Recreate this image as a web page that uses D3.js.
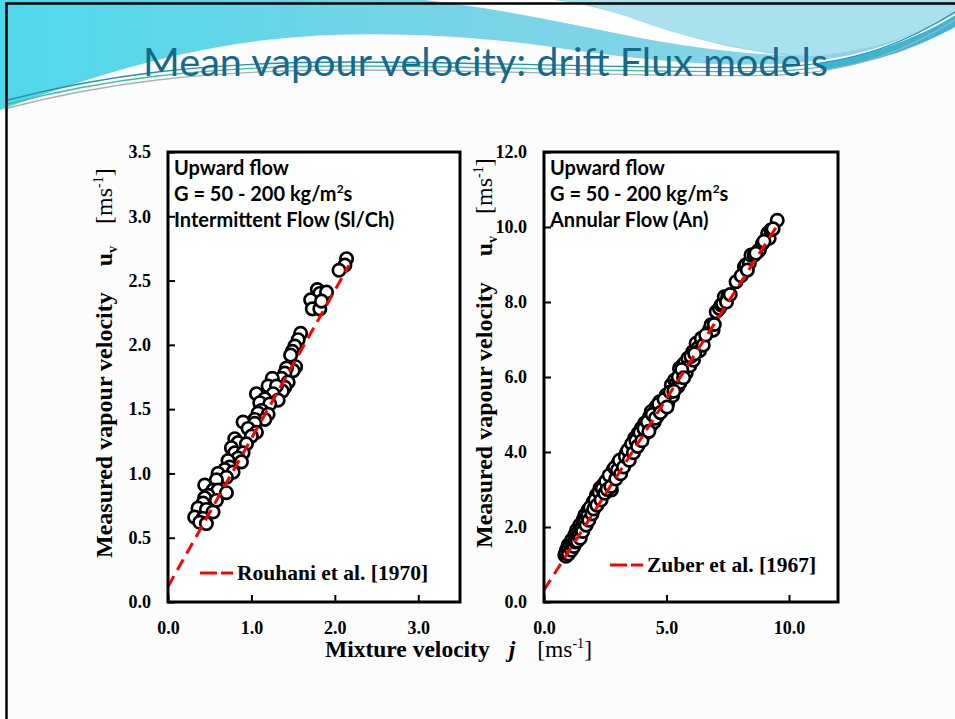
<!DOCTYPE html>
<html><head><meta charset="utf-8">
<script src="https://cdn.jsdelivr.net/npm/d3@7"></script>
<style>body{margin:0;background:#fff;} svg{display:block}</style>
</head><body>
<svg id="c" width="955" height="719"></svg>
<script>
// ---------- DATA ----------
const titleText = "Mean vapour velocity: drift Flux models";
const leftXTicks = [0, 1, 2, 3];
const leftYTicks = [0, 0.5, 1, 1.5, 2, 2.5, 3, 3.5];
const rightXTicks = [0, 5, 10];
const rightYTicks = [0, 2, 4, 6, 8, 10, 12];
const leftNotes = ["Upward flow", "G = 50 - 200 kg/m", "Intermittent Flow (Sl/Ch)"];
const rightNotes = ["Upward flow", "G = 50 - 200 kg/m", "Annular Flow (An)"];
const leftLegend = "Rouhani et al. [1970]";
const rightLegend = "Zuber et al. [1967]";

// Intermittent flow (Sl/Ch): mixture velocity j, measured vapour velocity u
const intJ = [2.14,2.12,2.05,1.79,1.82,1.90,1.71,1.73,1.82,1.84,1.59,1.56,1.52,1.49,1.47,1.53,1.50,1.42,1.40,1.36,1.44,1.40,1.37,
  1.25,1.20,1.30,1.26,1.06,1.16,1.32,1.10,1.22,1.12,1.08,1.20,1.16,1.04,0.90,1.04,0.96,1.06,1.00,0.80,0.84,0.94,0.76,0.80,0.90,
  0.84,0.88,0.72,0.74,0.68,0.78,0.60,0.70,0.58,0.44,0.54,0.60,0.48,0.70,0.44,0.58,0.42,0.36,0.46,0.54,0.32,0.42,0.38,0.46];
const intU = [2.67,2.62,2.58,2.43,2.40,2.41,2.35,2.28,2.28,2.34,2.09,2.04,1.99,1.95,1.92,1.83,1.80,1.82,1.78,1.74,1.71,1.67,1.64,
  1.74,1.68,1.68,1.62,1.62,1.58,1.57,1.55,1.54,1.49,1.47,1.46,1.42,1.42,1.40,1.39,1.35,1.32,1.29,1.27,1.24,1.23,1.20,1.16,1.16,
  1.12,1.09,1.10,1.05,1.03,1.01,1.00,0.97,0.95,0.91,0.87,0.87,0.83,0.85,0.81,0.79,0.77,0.73,0.72,0.70,0.66,0.65,0.62,0.61];

// Annular flow (An)
const annJ = [0.85,0.90,0.92,0.95,0.99,1.02,1.05,1.10,1.13,1.15,1.20,1.26,1.25,1.30,1.33,1.38,1.40,1.46,1.50,1.55,1.60,1.62,1.67,1.70,
  1.75,1.80,1.85,1.90,1.94,1.98,2.01,2.05,2.10,2.14,2.18,2.22,2.28,2.30,2.35,2.41,2.45,2.50,2.55,2.62,2.60,2.69,2.70,2.75,2.78,2.82,
  2.85,2.90,2.95,3.02,3.05,3.10,3.16,3.20,3.23,3.28,3.36,3.40,3.45,3.50,3.55,3.60,3.70,3.72,3.78,3.84,3.88,3.95,3.97,4.05,4.11,4.15,
  4.18,4.25,4.31,4.35,4.38,4.45,4.50,4.58,4.62,4.65,4.72,4.80,4.85,4.99,4.99,5.05,5.10,5.20,5.20,5.25,5.33,5.40,5.46,5.53,5.55,5.60,
  5.67,5.74,5.80,5.87,5.95,6.07,6.10,6.21,6.28,6.35,6.42,6.50,6.75,6.82,6.90,7.03,7.16,7.23,7.29,7.36,7.50,7.84,8.18,8.24,8.38,8.45,
  8.58,8.72,8.79,8.92,9.13,9.19,9.26,9.52,
  0.88,0.97,1.00,1.08,1.12,1.18,1.22,1.28,1.35,1.36,1.43,1.48,1.52,1.58,1.65,1.72,1.78,1.83,1.88,1.96,2.03,2.08,2.16,2.25,2.33,2.38,
  2.48,2.52,2.58,2.66,2.73,2.88,2.93,3.00,3.08,3.13,3.25,3.32,3.42,3.48,3.58,3.65,3.75,3.82,3.92,4.00,4.08,4.22,4.28,4.42,4.55,4.68,
  4.75,4.90,5.02,5.15,5.30,5.48,5.62,5.70,6.00,6.15,6.60,6.95,7.45,7.60,8.05,8.30,8.65,8.98,9.35];
const annU = [1.25,1.22,1.39,1.30,1.52,1.35,1.45,1.40,1.65,1.50,1.58,1.79,1.62,1.70,1.92,1.75,1.85,2.05,1.90,2.00,2.19,2.05,2.32,2.15,
  2.25,2.45,2.30,2.40,2.54,2.45,2.67,2.55,2.62,2.85,2.70,2.78,3.03,2.85,2.92,3.12,2.98,3.05,3.15,3.25,3.10,3.34,3.18,2.99,3.25,3.52,
  3.35,3.40,3.50,3.70,3.45,3.55,3.57,3.65,3.83,3.70,3.97,3.80,3.90,4.10,3.95,4.05,4.37,4.10,4.20,4.50,4.25,4.35,4.63,4.45,4.77,4.50,
  4.59,4.65,4.94,4.70,5.08,4.94,4.80,5.21,4.95,5.12,5.34,5.10,5.25,5.52,5.43,5.30,5.45,5.65,5.79,5.50,5.92,5.83,5.74,6.23,5.85,6.05,
  6.32,6.37,6.10,6.50,6.30,6.67,6.45,6.90,6.77,6.70,7.03,6.85,7.25,7.39,7.25,7.74,7.83,7.92,7.96,8.14,8.14,8.54,8.94,8.99,9.03,9.25,
  9.25,9.34,9.39,9.56,9.83,9.70,9.92,10.18,
  1.30,1.40,1.28,1.50,1.38,1.52,1.48,1.60,1.82,1.62,1.78,1.70,1.95,1.88,2.12,2.05,2.30,2.18,2.52,2.35,2.48,2.72,2.58,2.92,2.72,3.02,
  2.90,3.22,3.00,3.38,3.08,3.58,3.28,3.52,3.78,3.42,3.60,3.88,4.05,3.78,4.22,3.98,4.30,4.15,4.52,4.30,4.62,4.80,4.55,5.00,4.90,5.28,
  5.05,5.40,5.20,5.60,5.62,6.00,6.20,5.98,6.55,6.62,7.12,7.40,8.00,8.20,8.70,8.85,9.30,9.62,9.95];

// Drift-flux model lines
const rouJ = [0, 2.17];
const rouU = [0.12, 2.62];
const zubJ = [0, 9.5];
const zubU = [0.32, 10.02];

// ---------- DRAW ----------
const svg = d3.select("#c");
const defs = svg.append("defs");
const gr = defs.append("linearGradient").attr("id","cy").attr("x1","0").attr("x2","1").attr("y1","0").attr("y2","0");
gr.append("stop").attr("offset","0").attr("stop-color","#4fd8ea");
gr.append("stop").attr("offset","0.5").attr("stop-color","#78d4e6");
gr.append("stop").attr("offset","1").attr("stop-color","#8fd4e8");

svg.append("rect").attr("width",955).attr("height",719).attr("fill","#fcfcfc");
// decorative wave
svg.append("path").attr("fill","url(#cy)")
  .attr("d","M0,0 L955,0 L955,14 C905,40 865,56 805,62 C725,70 625,58 545,46 C455,34 355,30 265,40 C165,52 75,82 0,110 Z");
svg.append("path").attr("fill","#a9e1ec")
  .attr("d","M560,0 L955,0 L955,14 C905,40 865,52 810,56 C740,52 680,36 630,18 C605,9 585,3 560,0 Z");
svg.append("path").attr("fill","#ffffff")
  .attr("d","M425,0 C495,8 560,22 620,34 C670,44 720,52 790,56 C720,48 670,32 625,16 C600,8 575,2 555,0 Z");
svg.append("path").attr("fill","#3db4dd")
  .attr("d","M815,64 C875,55 920,36 955,16 L955,27 C920,46 880,62 822,70 Z");
const wl = [["#2c8db2",0],["#36c2a2",4],["#a8b0b4",8]];
wl.forEach(([c,o])=>{
  svg.append("path").attr("fill","none").attr("stroke",c).attr("stroke-width",1.3)
    .attr("d",`M8,${100+o} C100,${76+o} 200,${62+o} 350,${62+o} C500,${62+o} 650,${70+o} 780,${67+o} C860,${63+o} 910,${40+o} 955,${12+o}`);
});
// frame
svg.append("path").attr("fill","none").attr("stroke","#000").attr("stroke-width",2.5)
  .attr("d","M6.5,719 L6.5,3.5 L955,3.5");

svg.append("text").attr("x",143).attr("y",76).attr("font-family","Lato, 'Open Sans', sans-serif")
  .attr("font-size",38).attr("fill","#17698a").attr("textLength",685).attr("lengthAdjust","spacingAndGlyphs")
  .text(titleText);

const serif = "'Liberation Serif','Times New Roman',serif";
const sans = "Lato, 'Open Sans', sans-serif";

function panel(cfg){
  const x = d3.scaleLinear().domain(cfg.xd).range(cfg.xr);
  const y = d3.scaleLinear().domain(cfg.yd).range(cfg.yr);
  const g = svg.append("g");
  const x0 = x(cfg.xd[0]), x1 = x(cfg.xd[1]), y0 = y(cfg.yd[0]), y1 = y(cfg.yd[1]);
  g.append("rect").attr("x",x0).attr("y",y1).attr("width",x1-x0).attr("height",y0-y1).attr("fill","#fff");

  const fmt = d3.format(".1f");
  const ya = d3.axisLeft(y).tickValues(cfg.yt).tickFormat(fmt).tickSizeInner(-7).tickSizeOuter(0).tickPadding(17);
  const xa = d3.axisBottom(x).tickValues(cfg.xt).tickFormat(fmt).tickSizeInner(-7).tickSizeOuter(0).tickPadding(19);
  [[ya,`translate(${x0},0)`],[xa,`translate(0,${y0})`]].forEach(([a,t])=>{
    const ag = g.append("g").attr("transform",t).call(a);
    ag.select(".domain").remove();
    ag.selectAll("line").attr("stroke","#000").attr("stroke-width",2);
    ag.selectAll("text").attr("font-family",serif).attr("font-weight","bold").attr("font-size",18).attr("fill","#000");
  });

  g.append("g").selectAll("circle").data(d3.zip(cfg.J,cfg.U)).join("circle")
    .attr("cx",d=>x(d[0])).attr("cy",d=>y(d[1])).attr("r",6.2)
    .attr("fill","#fff").attr("stroke","#000").attr("stroke-width",2.7);

  const line = d3.line().x(d=>x(d[0])).y(d=>y(d[1]));
  g.append("path").datum(d3.zip(cfg.LJ,cfg.LU)).attr("d",line)
    .attr("fill","none").attr("stroke","#ff0000").attr("stroke-width",3).attr("stroke-dasharray","12,7");

  // notes
  cfg.notes.forEach((n,i)=>{
    const t = g.append("text").attr("x",x0+6).attr("y",[175,201,227][i])
      .attr("font-family",sans).attr("font-weight","bold").attr("font-size",20).attr("fill","#000").text(n);
    if(i===1){
      t.append("tspan").attr("font-size",12).attr("dy",-8).text("2");
      t.append("tspan").attr("dy",8).text("s");
    }
  });
  // legend
  g.append("line").attr("x1",cfg.lx).attr("x2",cfg.lx+33).attr("y1",cfg.ly).attr("y2",cfg.ly)
    .attr("stroke","#ff0000").attr("stroke-width",3).attr("stroke-dasharray","17,4");
  g.append("text").attr("x",cfg.lx+37).attr("y",cfg.ly+7).attr("font-family",serif).attr("font-weight","bold")
    .attr("font-size",21.5).attr("fill","#000").text(cfg.legend);

  g.append("rect").attr("x",x0).attr("y",y1).attr("width",x1-x0).attr("height",y0-y1)
    .attr("fill","none").attr("stroke","#000").attr("stroke-width",3);

  // y title
  const yt = g.append("text").attr("transform",`translate(${cfg.ytx},${cfg.yty}) rotate(-90)`)
    .attr("font-family",serif).attr("font-size",24).attr("fill","#000");
  yt.append("tspan").attr("font-weight","bold").text("Measured vapour velocity");
  yt.append("tspan").attr("font-weight","bold").attr("dx",26).text("u");
  yt.append("tspan").attr("font-weight","bold").attr("font-size",14).attr("dy",5).text("v");
  yt.append("tspan").attr("dy",-5).attr("dx",22).text("[ms");
  yt.append("tspan").attr("font-size",14).attr("dy",-9).text("-1");
  yt.append("tspan").attr("dy",9).text("]");
}

panel({xd:[0,3.5], xr:[168,460], yd:[0,3.5], yr:[602,152], xt:leftXTicks, yt:leftYTicks,
  J:intJ, U:intU, LJ:rouJ, LU:rouU, notes:leftNotes, legend:leftLegend, lx:200, ly:573, ytx:112, yty:558});
panel({xd:[0,12], xr:[544,838], yd:[0,12], yr:[602,152], xt:rightXTicks, yt:rightYTicks,
  J:annJ, U:annU, LJ:zubJ, LU:zubU, notes:rightNotes, legend:rightLegend, lx:610, ly:565, ytx:492, yty:548});

// x title
const xt = svg.append("text").attr("x",325).attr("y",657).attr("font-family",serif).attr("font-size",23.5).attr("fill","#000");
xt.append("tspan").attr("font-weight","bold").text("Mixture velocity");
xt.append("tspan").attr("font-weight","bold").attr("font-style","italic").attr("dx",19).text("j");
xt.append("tspan").attr("dx",22).text("[ms");
xt.append("tspan").attr("font-size",14).attr("dy",-9).text("-1");
xt.append("tspan").attr("dy",9).text("]");
</script>
</body></html>
